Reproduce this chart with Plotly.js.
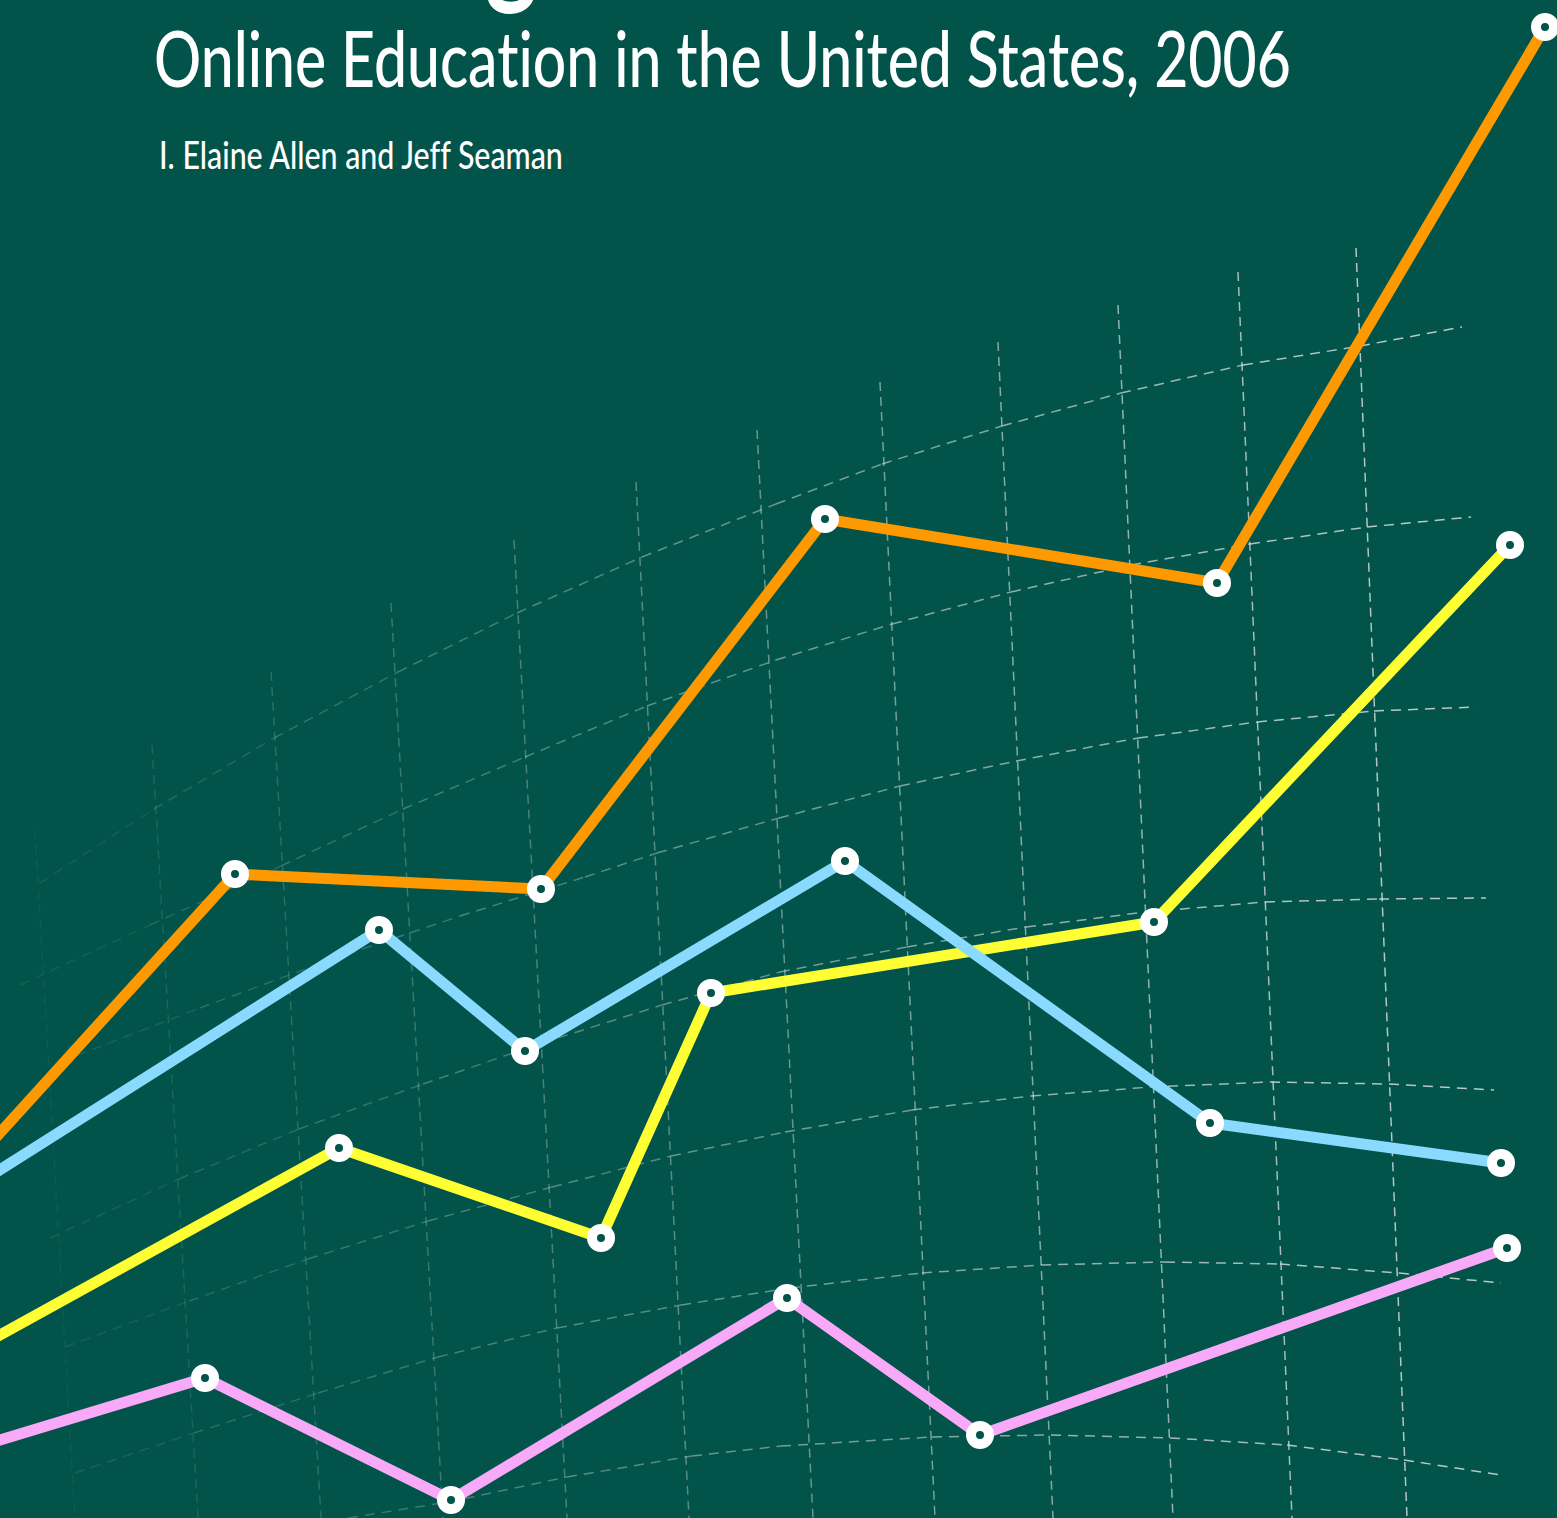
<!DOCTYPE html>
<html><head><meta charset="utf-8">
<script src="https://cdn.plot.ly/plotly-3.0.1.min.js"></script>
<style>html,body{margin:0;padding:0;background:#02534A;overflow:hidden}#chart{width:1557px;height:1518px}
.annotation-text{font-variant-ligatures:none;font-feature-settings:"liga" 0,"clig" 0}</style>
</head><body><div id="chart"></div>
<script>
// Canvas-unit values read from the cover (no visible axes)
const W = 1557, H = 1518;

// Series (x position, y position from top)
const orangeX = [-40, 235, 541, 825, 1217, 1545];
const orangeY = [1177, 874, 889, 519, 583, 27];
const blueX   = [-40, 379, 525, 845, 1210, 1501];
const blueY   = [1195, 930, 1051, 861, 1123, 1163];
const yellowX = [-40, 339, 601, 711, 1154, 1510];
const yellowY = [1357, 1148, 1238, 993, 922, 545];
const pinkX   = [-40, 205, 451, 787, 980, 1507];
const pinkY   = [1452, 1378, 1500, 1298, 1435, 1248];

// Perspective grid: near-vertical lines
const vGridTopX    = [35, 152, 271, 391, 514, 636, 757, 880, 998, 1118, 1238, 1356];
const vGridTopY    = [830, 745, 672, 603, 540, 482, 430, 382, 342, 305, 272, 248];
const vGridBottomX = [75, 198, 321, 443, 567, 689, 813, 935, 1053, 1173, 1292, 1407];

// Perspective grid: curved cross lines
const curve1X = [40,154,274,398,517,642,776,882,1002,1121,1243,1360,1462];
const curve1Y = [883,809,738,672,613,557,504,464,426,393,365,346,327];
const curve2X = [20,150,281,403,525,647,776,892,1011,1131,1250,1367,1471];
const curve2Y = [985,925,866,809,757,706,660,624,592,565,544,527,517];
const curve3X = [60,200,330,460,585,657,779,900,1016,1138,1257,1374,1476];
const curve3Y = [1062,1008,960,916,877,853,818,786,761,738,722,711,707];
const curve4X = [50,179,299,423,542,662,780,907,1026,1146,1265,1379,1486];
const curve4Y = [1238,1179,1129,1084,1043,1005,972,947,927,912,902,899,898];
const curve5X = [65,189,308,428,552,671,785,912,1031,1151,1270,1389,1494];
const curve5Y = [1347,1301,1259,1221,1187,1156,1132,1110,1096,1087,1082,1084,1090];
const curve6X = [75,194,318,438,557,681,790,922,1041,1165,1280,1399,1501];
const curve6Y = [1473,1433,1393,1357,1328,1305,1288,1273,1265,1262,1264,1273,1283];
const curve7X = [348,448,567,692,781,932,1051,1170,1287,1404,1501];
const curve7Y = [1518,1502,1477,1456,1446,1437,1435,1438,1445,1460,1475];

const titleText = 'Online Education in the United States, 2006';
const subtitleText = 'I. Elaine Allen and Jeff Seaman';
const bigTitleText = 'Making the Grade';

const BG = '#02534A';
const FONT = 'Lato, "Open Sans", sans-serif';

function gridAlpha(x){ return Math.max(0.05, Math.min(0.82, 0.04 + 0.56 * x / 1000)); }
function gridColor(x){ return 'rgba(222,228,225,' + gridAlpha(x).toFixed(3) + ')'; }

const traces = [];
vGridTopX.forEach((tx, i) => {
  traces.push({
    type: 'scatter', mode: 'lines', hoverinfo: 'skip',
    x: [tx, vGridBottomX[i]], y: [vGridTopY[i], H],
    line: {color: gridColor(tx), width: 1.5, dash: '9px,6px'}
  });
});
[[curve1X,curve1Y],[curve2X,curve2Y],[curve3X,curve3Y],[curve4X,curve4Y],
 [curve5X,curve5Y],[curve6X,curve6Y],[curve7X,curve7Y]].forEach(([cx, cy]) => {
  for (let k = 0; k < cx.length - 1; k++) {
    traces.push({
      type: 'scatter', mode: 'lines', hoverinfo: 'skip',
      x: [cx[k], cx[k+1]], y: [cy[k], cy[k+1]],
      line: {color: gridColor((cx[k] + cx[k+1]) / 2), width: 1.5, dash: '10px,7px'}
    });
  }
});

function series(x, y, color){
  return {
    type: 'scatter', mode: 'lines+markers', x: x, y: y, hoverinfo: 'skip',
    line: {color: color, width: 11},
    marker: {symbol: 'circle', size: 18, color: BG, line: {color: '#ffffff', width: 10}}
  };
}
traces.push(series(pinkX, pinkY, '#F8A9F8'));
traces.push(series(yellowX, yellowY, '#FFFF33'));
traces.push(series(blueX, blueY, '#8ADAFF'));
traces.push(series(orangeX, orangeY, '#FF9900'));

const layout = {
  width: W, height: H,
  margin: {l: 0, r: 0, t: 0, b: 0, pad: 0},
  paper_bgcolor: BG, plot_bgcolor: BG,
  showlegend: false,
  xaxis: {range: [0, W], visible: false, fixedrange: true},
  yaxis: {range: [H, 0], visible: false, fixedrange: true},
  annotations: [
    {text: titleText, xref: 'paper', yref: 'paper', x: 152 / W, y: 1 - 9 / H,
     xanchor: 'left', yanchor: 'top', align: 'left', showarrow: false,
     font: {family: FONT, size: 77, color: '#ffffff', weight: 500}},
    {text: subtitleText, xref: 'paper', yref: 'paper', x: 157 / W, y: 1 - 129 / H,
     xanchor: 'left', yanchor: 'top', align: 'left', showarrow: false,
     font: {family: FONT, size: 39, color: '#ffffff', weight: 500}},
    {text: bigTitleText, xref: 'paper', yref: 'paper', x: 152 / W, y: 1 - 21 / H,
     xanchor: 'left', yanchor: 'bottom', align: 'left', showarrow: false,
     font: {family: FONT, size: 140, color: '#ffffff', weight: 700}}
  ]
};

function squeeze(el, targetWidth, dx){
  const bb = el.getBBox();
  const s = targetWidth / bb.width;
  el.setAttribute('transform',
    'translate(' + (dx || 0) + ',0) translate(' + bb.x + ',0) scale(' + s + ',1) translate(' + (-bb.x) + ',0)');
  return {bb: bb, s: s};
}

Plotly.newPlot('chart', traces, layout, {staticPlot: true, displayModeBar: false}).then(() => {
  document.querySelectorAll('.annotation-text').forEach(el => {
    el.style.fontVariantLigatures = 'none';
    const t = el.textContent;
    if (t === titleText) {
      squeeze(el, 1137, 0);
    } else if (t === subtitleText) {
      squeeze(el, 404, 0);
    } else if (t === bigTitleText) {
      const bb = el.getBBox();
      const s = 0.72;
      let dx = 0;
      try {
        const ctmE = el.getCTM() ? el.getCTM().e : 0;
        const ext = el.getExtentOfChar(5); // the "g"
        dx = 485 - ctmE - bb.x - (ext.x - bb.x) * s;
      } catch (e) {}
      squeeze(el, bb.width * s, dx);
    }
  });
});
</script></body></html>
